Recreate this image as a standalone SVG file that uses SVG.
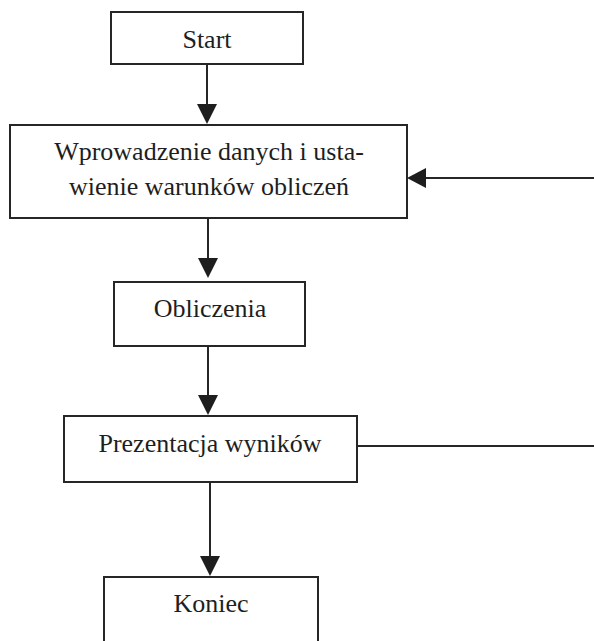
<svg xmlns="http://www.w3.org/2000/svg" width="594" height="641" viewBox="0 0 594 641">
<style>
.box{fill:#fff;stroke:#262626;stroke-width:2}
.lbl{font-family:"Liberation Serif","Times New Roman",serif;font-size:26px;fill:#1e1e1e;text-anchor:middle}
.ln{stroke:#262626;stroke-width:2;fill:none}
.ah{fill:#1e1e1e}
</style>
<rect width="594" height="641" fill="#fff"/>
<g id="connectors">
<line class="ln" x1="207" y1="64" x2="207" y2="106"/>
<polygon class="ah" points="197,104 217,104 207,124"/>
<line class="ln" x1="208" y1="218" x2="208" y2="260"/>
<polygon class="ah" points="198,258 218,258 208,278"/>
<line class="ln" x1="208" y1="346" x2="208" y2="397"/>
<polygon class="ah" points="198,395 218,395 208,415"/>
<line class="ln" x1="210" y1="482" x2="210" y2="558"/>
<polygon class="ah" points="200,556 220,556 210,576"/>
<line class="ln" x1="423" y1="178" x2="594" y2="178"/>
<polygon class="ah" points="407,178 426,168 426,188"/>
<line class="ln" x1="357" y1="446" x2="594" y2="446"/>
</g>
<g id="start">
<rect class="box" x="111" y="12" width="192" height="52"/>
<text class="lbl" x="207" y="48">Start</text>
</g>
<g id="input">
<rect class="box" x="10" y="125" width="397" height="93"/>
<text class="lbl" x="209" y="160">Wprowadzenie danych i usta-</text>
<text class="lbl" x="209" y="195">wienie warunków obliczeń</text>
</g>
<g id="calc">
<rect class="box" x="114" y="282" width="191" height="64"/>
<text class="lbl" x="210" y="317">Obliczenia</text>
</g>
<g id="results">
<rect class="box" x="64" y="416" width="293" height="66"/>
<text class="lbl" x="210" y="452">Prezentacja wyników</text>
</g>
<g id="end">
<rect class="box" x="104" y="577" width="214" height="90"/>
<text class="lbl" x="211" y="612">Koniec</text>
</g>
</svg>
